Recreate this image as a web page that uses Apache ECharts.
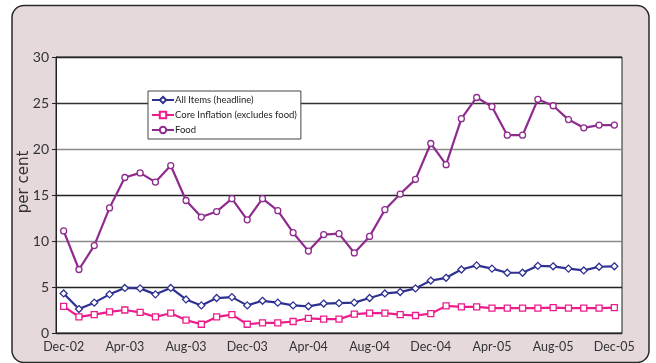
<!DOCTYPE html>
<html>
<head>
<meta charset="utf-8">
<script src="https://cdn.jsdelivr.net/npm/echarts@6/dist/echarts.min.js"></script>
<style>
html,body{margin:0;padding:0;background:#fff;}
#chart{width:656px;height:363px;}
</style>
</head>
<body>
<div id="chart"></div>
<script>
const categories = [
 'Dec-02','Jan-03','Feb-03','Mar-03','Apr-03','May-03','Jun-03','Jul-03','Aug-03','Sep-03','Oct-03','Nov-03',
 'Dec-03','Jan-04','Feb-04','Mar-04','Apr-04','May-04','Jun-04','Jul-04','Aug-04','Sep-04','Oct-04','Nov-04',
 'Dec-04','Jan-05','Feb-05','Mar-05','Apr-05','May-05','Jun-05','Jul-05','Aug-05','Sep-05','Oct-05','Nov-05','Dec-05'
];
const allItems = [4.3,2.6,3.3,4.2,4.9,4.85,4.2,4.9,3.65,3.0,3.8,3.9,3.0,3.5,3.3,3.0,2.9,3.2,3.25,3.3,3.8,4.3,4.45,4.85,5.7,6.0,6.9,7.35,7.0,6.55,6.55,7.3,7.25,7.0,6.8,7.2,7.25];
const coreInflation = [2.9,1.75,2.0,2.3,2.5,2.25,1.75,2.15,1.4,0.95,1.75,2.0,0.95,1.1,1.1,1.25,1.6,1.5,1.5,2.05,2.15,2.15,2.0,1.9,2.1,2.95,2.85,2.85,2.7,2.7,2.7,2.7,2.75,2.7,2.7,2.7,2.75];
const food = [11.1,6.9,9.5,13.6,16.9,17.4,16.4,18.2,14.4,12.6,13.2,14.6,12.3,14.6,13.3,10.9,8.9,10.7,10.8,8.7,10.5,13.4,15.1,16.7,20.6,18.3,23.3,25.6,24.6,21.5,21.5,25.4,24.7,23.2,22.3,22.6,22.6];
const seriesNames = ['All Items (headline)','Core Inflation (excludes food)','Food'];
const yTicks = [0,5,10,15,20,25,30];
const yAxisTitle = 'per cent';

const FONT = 'Lato';
const chart = echarts.init(document.getElementById('chart'), null, {renderer:'canvas'});
function mk(name, data, color, symbol){
  return {
    name, type:'line', data, symbol, symbolSize: symbol==='diamond'?7:6,
    showAllSymbol:true,
    lineStyle:{color, width:2.2},
    itemStyle:{color:'#fff', borderColor:color, borderWidth:1.3},
    emphasis:{disabled:true}, animation:false, z:3
  };
}
chart.setOption({
  backgroundColor:'#fff',
  animation:false,
  graphic:[{
    type:'rect', z:-10, silent:true,
    shape:{x:12, y:5.5, width:637, height:357, r:12},
    style:{fill:'#e6d9dc', stroke:'#2a2a2a', lineWidth:1.5}
  },{
    type:'text', silent:true, z:10,
    x:24, y:182, rotation:Math.PI/2,
    style:{text:yAxisTitle, font:'15px "DejaVu Sans"', fill:'#333', align:'center', verticalAlign:'middle'}
  }],
  grid:{left:56, right:34, top:57, bottom:30, show:true, backgroundColor:'#fff', borderColor:'#222', borderWidth:1},
  legend:{
    orient:'vertical', left:148, top:91, width:143,
    backgroundColor:'#fff', borderColor:'#444', borderWidth:1,
    padding:[4,4,4,3], itemGap:5, itemWidth:22, itemHeight:8,
    textStyle:{fontFamily:FONT, fontSize:9.5, color:'#222', padding:[0,0,0,-4]},
    data: seriesNames
  },
  xAxis:{
    type:'category', data:categories, boundaryGap:true,
    axisLine:{lineStyle:{color:'#222', width:1}},
    axisTick:{interval:3, length:4, lineStyle:{color:'#222'}},
    axisLabel:{interval:3, fontFamily:FONT, fontSize:12.5, color:'#333', margin:7},
    splitLine:{show:false}
  },
  yAxis:{
    type:'value', min:yTicks[0], max:yTicks[yTicks.length-1], interval:5,
    axisLine:{show:true, lineStyle:{color:'#222', width:1}},
    axisTick:{show:true, length:4, lineStyle:{color:'#222'}},
    axisLabel:{fontFamily:FONT, fontSize:14, color:'#333', margin:7},
    splitLine:{show:true, lineStyle:{color:['#222','#222','#8a8a8a','#222','#8a8a8a','#333','#222'], width:1.3}}
  },
  series:[
    mk(seriesNames[0], allItems, '#2e3192', 'diamond'),
    mk(seriesNames[1], coreInflation, '#ec1c8c', 'rect'),
    mk(seriesNames[2], food, '#8e2b8e', 'circle')
  ]
});
</script>
</body>
</html>
